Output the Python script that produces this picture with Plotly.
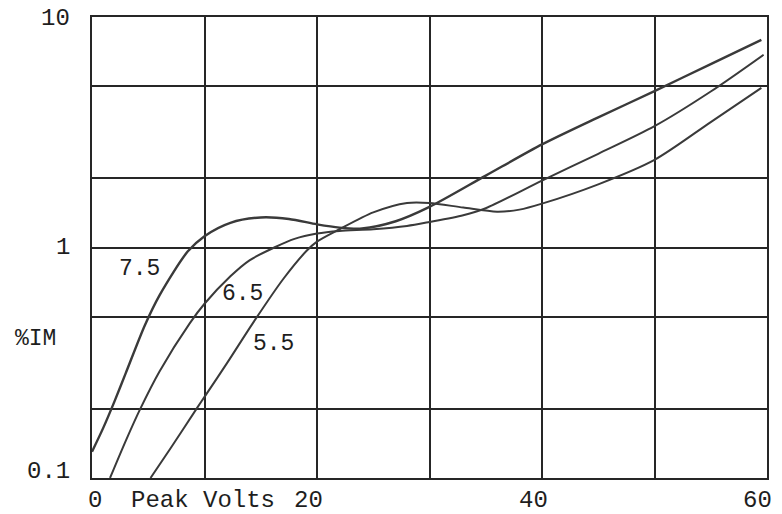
import math
import plotly.graph_objects as go

# ---- data ----
volts_75 = [0, 1, 2, 3, 4.7, 6, 8.5, 10, 12.3, 15, 17.5, 20, 22, 24, 27, 30, 35, 40, 45, 50, 55, 59.5]
im_75 = [0.13, 0.165, 0.215, 0.285, 0.46, 0.62, 0.96, 1.12, 1.28, 1.35, 1.33, 1.26, 1.22, 1.21, 1.3, 1.5, 2.05, 2.8, 3.67, 4.77, 6.25, 7.96]

volts_65 = [1.6, 3, 4.3, 6, 8.7, 10, 12.3, 14, 16.2, 18, 20, 22, 25, 28, 30, 33, 35, 40, 45, 50, 55, 59.7]
im_65 = [0.1, 0.145, 0.2, 0.29, 0.47, 0.57, 0.75, 0.88, 1.0, 1.09, 1.15, 1.18, 1.2, 1.24, 1.29, 1.38, 1.48, 1.95, 2.55, 3.36, 4.75, 6.86]

volts_55 = [5.2, 7, 9.3, 10, 12, 14.3, 17, 19.1, 20, 22, 25, 28, 30, 33, 36, 38, 40, 45, 50, 55, 59.5]
im_55 = [0.1, 0.135, 0.2, 0.225, 0.315, 0.47, 0.73, 0.97, 1.06, 1.2, 1.42, 1.56, 1.56, 1.49, 1.43, 1.46, 1.55, 1.88, 2.4, 3.5, 4.93]

curve_labels = ["7.5", "6.5", "5.5"]
label_pos_v = [4.2, 13.4, 16.1]
label_pos_im = [0.81, 0.63, 0.38]

x_grid = [0, 10, 20, 30, 40, 50, 60]
x_labels = ["0", "20", "40", "60"]
x_label_vals = [0, 20, 40, 60]
x_label_shift = [3, -9, -9, -10]
y_grid = [0.1, 0.2, 0.5, 1, 2, 5, 10]
y_labels = ["0.1", "1", "10"]
y_label_vals = [0.1, 1, 10]
y_label_shift = [7, 0, -1]

FONT = "Liberation Mono"
INK = "#262626"
TXT = "#1e1e1e"

fig = go.Figure()
for vx, vy, w in [(volts_75, im_75, 2.4), (volts_65, im_65, 2.0), (volts_55, im_55, 2.0)]:
    fig.add_trace(go.Scatter(x=vx, y=vy, mode="lines",
                             line=dict(color="#3a3a3a", width=w, shape="spline", smoothing=0.8),
                             showlegend=False, hoverinfo="skip"))

for t, xv, yv in zip(curve_labels, label_pos_v, label_pos_im):
    fig.add_annotation(x=xv, y=math.log10(yv), yref="y", xref="x", text=t, showarrow=False,
                       font=dict(family=FONT, size=23, color=TXT))

# y tick labels
for t, yv, s in zip(y_labels, y_label_vals, y_label_shift):
    fig.add_annotation(x=0, xref="paper", y=math.log10(yv), yref="y", text=t, showarrow=False,
                       xanchor="right", xshift=-20, yshift=s,
                       font=dict(family=FONT, size=24, color=TXT))

# x tick labels
for t, xv, s in zip(x_labels, x_label_vals, x_label_shift):
    fig.add_annotation(x=xv, xref="x", y=0, yref="paper", text=t, showarrow=False,
                       yanchor="middle", yshift=-22, xshift=s,
                       font=dict(family=FONT, size=24, color=TXT))

fig.add_annotation(x=0, xref="paper", y=math.log10(0.40), yref="y", text="%IM", showarrow=False,
                   xanchor="right", xshift=-34,
                   font=dict(family=FONT, size=23, color=TXT))

fig.add_annotation(x=9.9, xref="x", y=0, yref="paper", text="Peak Volts", showarrow=False,
                   yanchor="middle", yshift=-22,
                   font=dict(family=FONT, size=24, color=TXT))

fig.update_xaxes(range=[0, 60], tickvals=x_grid, showticklabels=False,
                 showgrid=True, gridcolor=INK, gridwidth=2,
                 showline=True, linecolor=INK, linewidth=2, mirror=True,
                 ticks="", zeroline=False, automargin=False)
fig.update_yaxes(type="log", range=[-1, 1], tickvals=y_grid, showticklabels=False,
                 showgrid=True, gridcolor=INK, gridwidth=2,
                 showline=True, linecolor=INK, linewidth=2, mirror=True,
                 ticks="", zeroline=False, automargin=False)

fig.update_layout(width=782, height=514,
                  margin=dict(l=92, r=15, t=17, b=36),
                  paper_bgcolor="white", plot_bgcolor="white")

fig.write_html("out.html", config={"displayModeBar": False},
               post_script="document.body.style.margin='0px';")
